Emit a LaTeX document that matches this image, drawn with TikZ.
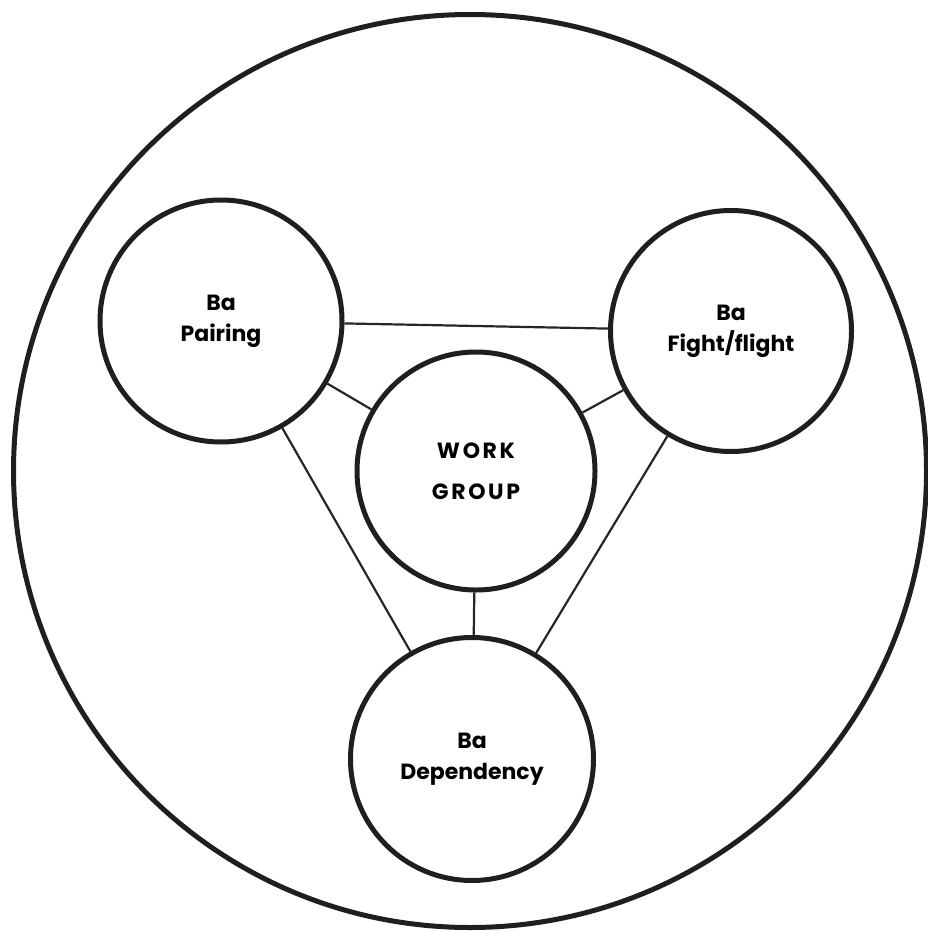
\documentclass[tikz,border=0pt]{standalone}
\usepackage{fontspec}
\setmainfont{Poppins}
\begin{document}
\begin{tikzpicture}[x=1pt,y=-1pt,
  ring/.style={circle,draw=black!88,line width=5pt,inner sep=0pt,align=center,
    font=\fontsize{22}{31}\selectfont\bfseries},
  link/.style={draw=black!85,line width=2.2pt}]
\useasboundingbox (0,0) rectangle (928,931);
\node[circle,draw=black!88,line width=5pt,minimum size=913pt,inner sep=0pt] (outer) at (470,471) {};
\node[ring,minimum size=242pt] (pair) at (221,321) {Ba\\Pairing};
\node[ring,minimum size=241pt] (fight) at (731,331) {Ba\\Fight/flight};
\node[ring,minimum size=238pt,font=\fontsize{22}{41}\selectfont\bfseries] (work) at (476,471) {\addfontfeature{LetterSpace=12}WORK\\\addfontfeature{LetterSpace=12}GROUP};
\node[ring,minimum size=243pt] (dep) at (472,759) {Ba\\Dependency};
\draw[link] (pair) -- (fight);
\draw[link] (pair) -- (work);
\draw[link] (fight) -- (work);
\draw[link] (pair) -- (dep);
\draw[link] (fight) -- (dep);
\draw[link] (work) -- (dep);
\end{tikzpicture}
\end{document}
